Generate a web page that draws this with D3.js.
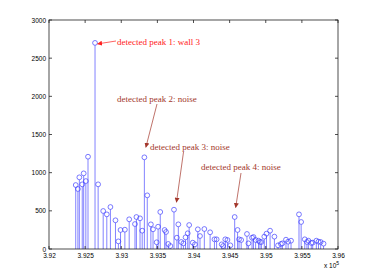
<!DOCTYPE html>
<html><head><meta charset="utf-8">
<script src="https://cdn.jsdelivr.net/npm/d3@7"></script>
<style>html,body{margin:0;padding:0;background:#fff;}svg{display:block;}</style>
</head><body><svg id="c" width="374" height="280"></svg>
<script>
// x values in units of 10^5
const xs = [3.9237,3.9240,3.9242,3.9246,3.9248,3.9251,3.9254,3.92637,3.9268,3.9275,3.9280,3.9285,3.9292,3.9296,3.9299,3.9305,3.9311,3.9319,3.9321,3.9326,3.9329,3.9332,3.9336,3.9341,3.9344,3.9349,3.9351,3.9354,3.9360,3.9362,3.9365,3.9368,3.9373,3.9377,3.9379,3.9383,3.9386,3.9389,3.9392,3.9394,3.9399,3.9402,3.9406,3.9409,3.9415,3.9423,3.9429,3.9432,3.9439,3.9441,3.9444,3.9447,3.9451,3.9457,3.9461,3.9463,3.9466,3.9474,3.9476,3.9481,3.9483,3.9486,3.9490,3.9492,3.9494,3.9498,3.9501,3.9506,3.9512,3.9517,3.9521,3.9523,3.9528,3.9531,3.9535,3.9546,3.9549,3.9554,3.9557,3.9559,3.9563,3.9565,3.9570,3.9573,3.9576,3.9580];
const ys = [838,786,939,847,991,890,1209,2700,847,498,454,550,376,100,249,253,389,327,419,402,240,1201,703,323,258,88,292,485,249,223,66,39,515,148,323,92,74,153,206,314,83,61,258,170,262,219,127,127,61,39,127,118,48,419,249,127,118,197,74,148,157,118,109,92,92,162,201,240,162,48,66,74,122,96,109,454,354,127,92,109,79,83,109,96,92,70];
const xTicks = [3.92,3.925,3.93,3.935,3.94,3.945,3.95,3.955,3.96];
const xTickLabels = ["3.92","3.925","3.93","3.935","3.94","3.945","3.95","3.955","3.96"];
const yTicks = [0,500,1000,1500,2000,2500,3000];
const yTickLabels = ["0","500","1000","1500","2000","2500","3000"];
const annText = ["detected peak 1: wall 3","detected peak 2: noise","detected peak 3: noise","detected peak 4: noise"];
const annPeak = [7,21,32,53];

const L=49,R=338,T=20,B=249;
const svg=d3.select("#c");
const x=d3.scaleLinear().domain([3.92,3.96]).range([L,R]);
const y=d3.scaleLinear().domain([0,3000]).range([B,T]);

const blue="#3c3cff";
const g=svg.append("g");
g.selectAll("line.stem").data(xs).join("line")
  .attr("x1",d=>x(d)).attr("x2",d=>x(d))
  .attr("y1",y(0)).attr("y2",(d,i)=>y(ys[i])+2.4)
  .attr("stroke",blue).attr("stroke-width",0.8).attr("stroke-opacity",0.8);
g.selectAll("circle").data(xs).join("circle")
  .attr("cx",d=>x(d)).attr("cy",(d,i)=>y(ys[i])).attr("r",2.4)
  .attr("fill","none").attr("stroke",blue).attr("stroke-width",0.8).attr("stroke-opacity",0.85);

// axes box
const ax="#222";
svg.append("rect").attr("x",L).attr("y",T).attr("width",R-L).attr("height",B-T)
  .attr("fill","none").attr("stroke",ax).attr("stroke-width",0.8);
const tk=3;
const xb=d3.axisBottom(x).tickValues(xTicks).tickSize(0).tickFormat((d,i)=>xTickLabels[i]).tickPadding(4);
const xa=svg.append("g").attr("transform",`translate(0,${B})`).call(xb);
const yl=d3.axisLeft(y).tickValues(yTicks).tickSize(0).tickFormat((d,i)=>yTickLabels[i]).tickPadding(3);
const ya=svg.append("g").attr("transform",`translate(${L},0)`).call(yl);
[xa,ya].forEach(a=>{a.select(".domain").remove();a.selectAll("text").attr("font-family","Liberation Sans, Arial, sans-serif").attr("font-size","6.5px").attr("fill","#000");});
// inward ticks on all sides
xTicks.forEach(v=>{
  svg.append("line").attr("x1",x(v)).attr("x2",x(v)).attr("y1",B).attr("y2",B-tk).attr("stroke",ax).attr("stroke-width",0.8);
  svg.append("line").attr("x1",x(v)).attr("x2",x(v)).attr("y1",T).attr("y2",T+tk).attr("stroke",ax).attr("stroke-width",0.8);
});
yTicks.forEach(v=>{
  svg.append("line").attr("x1",L).attr("x2",L+tk).attr("y1",y(v)).attr("y2",y(v)).attr("stroke",ax).attr("stroke-width",0.8);
  svg.append("line").attr("x1",R).attr("x2",R-tk).attr("y1",y(v)).attr("y2",y(v)).attr("stroke",ax).attr("stroke-width",0.8);
});
const ex=svg.append("text").attr("x",324).attr("y",268).attr("font-family","Liberation Sans, Arial, sans-serif").attr("font-size","6.5px");
ex.append("tspan").text("x 10");
ex.append("tspan").attr("dy",-3.5).attr("font-size","5px").text("5");

// annotations
const colors=["#ff2020","#a3372b","#a3372b","#a3372b"];
const defs=svg.append("defs");
colors.forEach((c,i)=>{
  defs.append("marker").attr("id","ah"+i).attr("viewBox","0 0 10 10").attr("refX",9).attr("refY",5)
   .attr("markerWidth",5).attr("markerHeight",5).attr("orient","auto-start-reverse").attr("markerUnits","userSpaceOnUse")
   .append("path").attr("d","M0,0L10,5L0,10Z").attr("fill",c);
});
const textPos=[[117,44.5],[117,102],[150,150],[201,170]];
const tail=[[116,41],[157,104],[183.5,152],[241,173]];
const headOff=[[2.5,1],[1.5,-10],[2.5,-7.5],[1,-9.5]];
annText.forEach((t,i)=>{
  const p=annPeak[i];
  const hx=x(xs[p])+headOff[i][0], hy=y(ys[p])+headOff[i][1];
  svg.append("line").attr("x1",tail[i][0]).attr("y1",tail[i][1]).attr("x2",hx).attr("y2",hy)
    .attr("stroke",colors[i]).attr("stroke-width",0.7).attr("marker-end",`url(#ah${i})`);
  svg.append("text").attr("x",textPos[i][0]).attr("y",textPos[i][1])
    .attr("font-family","Liberation Serif, Times New Roman, serif").attr("font-size","9px")
    .attr("fill",colors[i]).text(t);
});
</script></body></html>
